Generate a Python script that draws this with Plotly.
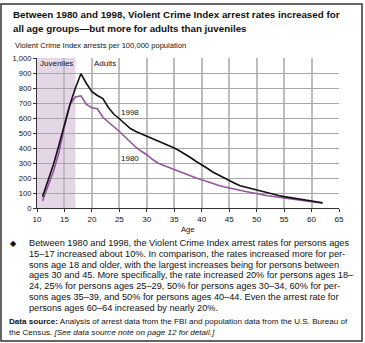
import plotly.graph_objects as go

ages = list(range(11, 63))
rate_1998 = [75, 180, 290, 420, 560, 690, 800, 895, 830, 775, 750, 730, 670, 625, 595, 560,
             530, 510, 495, 480, 465, 450, 435, 420, 400, 380, 360, 335, 310, 290, 265, 240,
             220, 200, 185, 165, 148, 138, 128, 118, 108, 98, 90, 83, 76, 70, 65, 60, 54, 48, 42, 35]
rate_1980 = [47, 140, 245, 370, 545, 690, 740, 748, 690, 668, 662, 605, 575, 545, 510, 475,
             440, 405, 378, 355, 325, 300, 285, 270, 255, 242, 228, 215, 200, 188, 175, 163,
             152, 142, 133, 125, 117, 110, 103, 95, 88, 82, 77, 72, 66, 61, 56, 51, 46, 42, 37, 32]
x_ticks = list(range(10, 70, 5))
y_ticks = list(range(0, 1100, 100))
y_tick_text = [f"{v:,}" for v in y_ticks]

title_lines = ["<b>Between 1980 and 1998, Violent Crime Index arrest rates increased for</b>",
               "<b>all age groups\u2014but more for adults than juveniles</b>"]
body_lines = ["Between 1980 and 1998, the Violent Crime Index arrest rates for persons ages",
              "15\u201317 increased about 10%. In comparison, the rates increased more for per-",
              "sons age 18 and older, with the largest increases being for persons between",
              "ages 30 and 45. More specifically, the rate increased 20% for persons ages 18\u2013",
              "24, 25% for persons ages 25\u201329, 50% for persons ages 30\u201334, 60% for per-",
              "sons ages 35\u201339, and 50% for persons ages 40\u201344. Even the arrest rate for",
              "persons ages 60\u201364 increased by nearly 20%."]
source_lines = ["<b>Data source:</b> Analysis of arrest data from the FBI and population data from the U.S. Bureau of",
                "the Census. <i>[See data source note on page 12 for detail.]</i>"]

W, H = 365, 343
L, R, T, B = 37, 26, 58, 135
PW, PH = W - L - R, H - T - B
FONT = "Liberation Sans, Arial, sans-serif"


def px(x):
    return (x - L) / PW


def py(y):
    return (H - B - y) / PH


fig = go.Figure()
fig.add_trace(go.Scatter(x=ages, y=rate_1980, mode="lines",
                         line=dict(color="#94549f", width=1.6), showlegend=False))
fig.add_trace(go.Scatter(x=ages, y=rate_1998, mode="lines",
                         line=dict(color="#111111", width=1.6), showlegend=False))

shapes = [
    dict(type="rect", xref="x", yref="y", x0=10, x1=17, y0=0, y1=1000,
         fillcolor="#e4d6e6", line=dict(width=0), layer="below"),
    dict(type="rect", xref="paper", yref="paper", x0=px(1), x1=px(362), y0=py(4), y1=py(341),
         line=dict(color="#333333", width=1.5), fillcolor="rgba(0,0,0,0)"),
]

ann = []
for i, t in enumerate(title_lines):
    ann.append(dict(text=t, x=px(11), y=py(14 + 14.5 * i), xref="paper", yref="paper",
                    xanchor="left", yanchor="middle", showarrow=False,
                    font=dict(size=9.8, color="#111", family=FONT)))
ann.append(dict(text="Violent Crime Index arrests per 100,000 population", x=px(13), y=py(45),
                xref="paper", yref="paper", xanchor="left", yanchor="middle", showarrow=False,
                font=dict(size=7.6, color="#111", family=FONT)))
ann.append(dict(text="Juveniles", x=10.2, y=965, xref="x", yref="y", xanchor="left",
                yanchor="middle", showarrow=False, font=dict(size=8, color="#111", family=FONT)))
ann.append(dict(text="Adults", x=20.0, y=965, xref="x", yref="y", xanchor="left",
                yanchor="middle", showarrow=False, font=dict(size=8, color="#111", family=FONT)))
ann.append(dict(text="1998", x=27, y=640, xref="x", yref="y", xanchor="center",
                yanchor="middle", showarrow=False, font=dict(size=8, color="#111", family=FONT)))
ann.append(dict(text="1980", x=27, y=333, xref="x", yref="y", xanchor="center",
                yanchor="middle", showarrow=False, font=dict(size=8, color="#111", family=FONT)))
ann.append(dict(text="Age", x=px(188), y=py(229), xref="paper", yref="paper", xanchor="center",
                yanchor="middle", showarrow=False, font=dict(size=7.6, color="#111", family=FONT)))
ann.append(dict(text="\u25c6", x=px(8), y=py(243), xref="paper", yref="paper", xanchor="left",
                yanchor="middle", showarrow=False, font=dict(size=8, color="#111", family=FONT)))
for i, t in enumerate(body_lines):
    ann.append(dict(text=t, x=px(27), y=py(243 + 10.8 * i), xref="paper", yref="paper",
                    xanchor="left", yanchor="middle", showarrow=False,
                    font=dict(size=9.2, color="#111", family=FONT)))
for i, t in enumerate(source_lines):
    ann.append(dict(text=t, x=px(7), y=py(321 + 11 * i), xref="paper", yref="paper",
                    xanchor="left", yanchor="middle", showarrow=False,
                    font=dict(size=8.1, color="#111", family=FONT)))

fig.update_layout(
    width=W, height=H, margin=dict(l=L, r=R, t=T, b=B),
    paper_bgcolor="white", plot_bgcolor="white",
    shapes=shapes, annotations=ann,
    font=dict(family=FONT, size=8, color="#111"),
    xaxis=dict(range=[10, 65], tickvals=x_ticks, showgrid=True, gridcolor="#bdbdbd",
               gridwidth=1.6, zeroline=False, showline=True, linecolor="#333", linewidth=1,
               ticks="outside", ticklen=3, tickcolor="#333", tickfont=dict(size=8),
               fixedrange=True),
    yaxis=dict(range=[0, 1000], tickvals=y_ticks, ticktext=y_tick_text, showgrid=True,
               gridcolor="#a8a8a8", gridwidth=1, zeroline=False, showline=True,
               linecolor="#333", linewidth=1, ticks="outside", ticklen=3, tickcolor="#333",
               tickfont=dict(size=7.6), fixedrange=True),
)

fig.write_html("out.html")
